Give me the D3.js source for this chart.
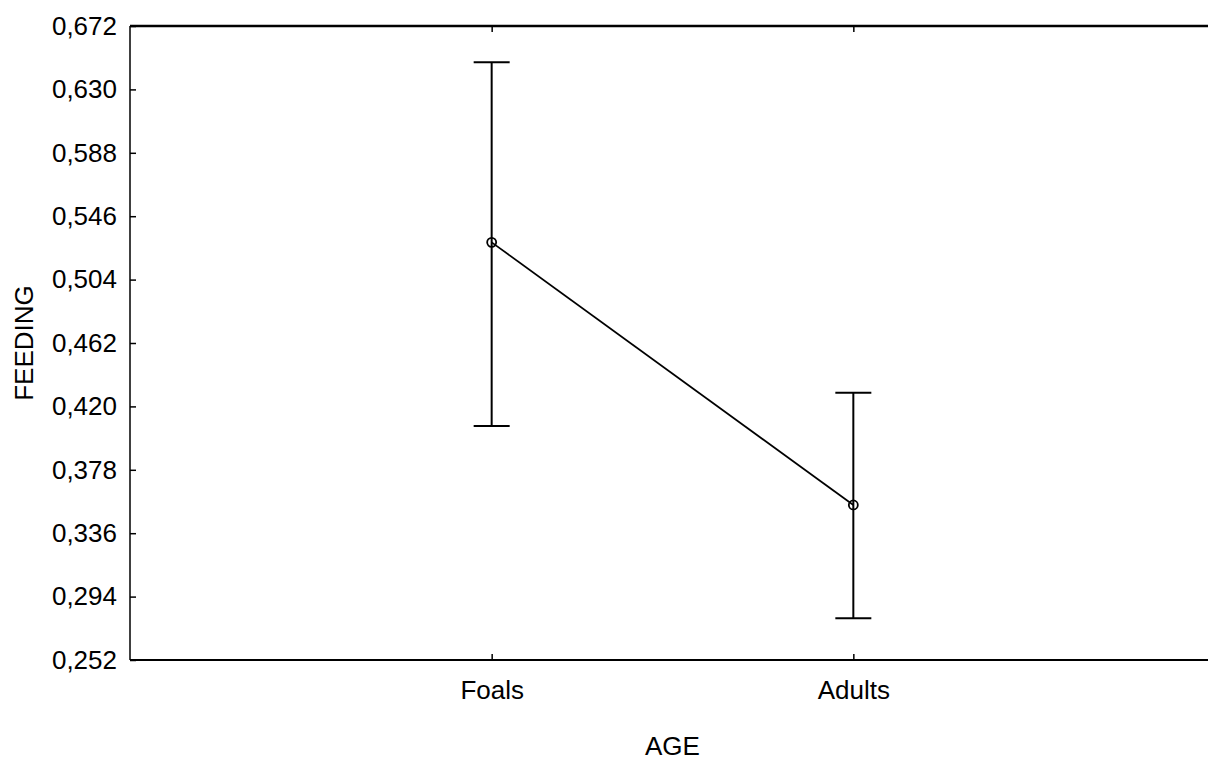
<!DOCTYPE html>
<html>
<head>
<meta charset="utf-8">
<script src="https://d3js.org/d3.v7.min.js"></script>
<style>
  html, body { margin: 0; padding: 0; background: #fff; overflow: hidden; }
  text { font-family: "Liberation Sans", Arial, sans-serif; fill: #000; }
</style>
</head>
<body>
<script>
// chart data
const categories = ["Foals", "Adults"];
const means = [0.5287, 0.3547];
const upper = [0.648, 0.4291];
const lower = [0.407, 0.2796];
const yTicks = [0.252, 0.294, 0.336, 0.378, 0.420, 0.462, 0.504, 0.546, 0.588, 0.630, 0.672];

const width = 1208, height = 760;
const m = { left: 130, top: 26, right: 1215, bottom: 660 };

const svg = d3.select("body").append("svg")
  .attr("width", width)
  .attr("height", height);

const x = d3.scalePoint()
  .domain(categories)
  .range([m.left, m.right])
  .padding(1);

const y = d3.scaleLinear()
  .domain([0.252, 0.672])
  .range([m.bottom, m.top]);

const fmt = d => d3.format(".3f")(d).replace(".", ",");

// frame lines
svg.append("line")
  .attr("x1", m.left).attr("x2", m.right)
  .attr("y1", m.top).attr("y2", m.top)
  .attr("stroke", "#000").attr("stroke-width", 2.5);
svg.append("line")
  .attr("x1", m.left).attr("x2", m.right)
  .attr("y1", m.bottom).attr("y2", m.bottom)
  .attr("stroke", "#000").attr("stroke-width", 2);
svg.append("line")
  .attr("x1", m.left).attr("x2", m.left)
  .attr("y1", m.top).attr("y2", m.bottom)
  .attr("stroke", "#000").attr("stroke-width", 1.5);

// y axis (ticks point inward)
const yAxis = d3.axisLeft(y)
  .tickValues(yTicks)
  .tickSize(-6)
  .tickPadding(13)
  .tickFormat(fmt);
const gy = svg.append("g")
  .attr("transform", `translate(${m.left},0)`)
  .call(yAxis);
gy.select(".domain").remove();
gy.selectAll(".tick line").attr("stroke", "#000").attr("stroke-width", 1.5);
gy.selectAll(".tick text")
  .style("font-size", "26px")
  .attr("font-family", null);

// x axis bottom
const xAxis = d3.axisBottom(x)
  .tickSize(-6)
  .tickPadding(21);
const gx = svg.append("g")
  .attr("transform", `translate(0,${m.bottom})`)
  .call(xAxis);
gx.select(".domain").remove();
gx.selectAll(".tick line").attr("stroke", "#000").attr("stroke-width", 1.5);
gx.selectAll(".tick text")
  .style("font-size", "26px")
  .attr("font-family", null);

// x ticks on top
const gt = svg.append("g")
  .attr("transform", `translate(0,${m.top})`)
  .call(d3.axisTop(x).tickSize(-6).tickFormat(""));
gt.select(".domain").remove();
gt.selectAll(".tick line").attr("stroke", "#000").attr("stroke-width", 1.5);

// axis titles
svg.append("text")
  .attr("x", (m.left + m.right) / 2)
  .attr("y", 755)
  .attr("text-anchor", "middle")
  .style("font-size", "26px")
  .text("AGE");

svg.append("text")
  .attr("transform", `translate(33,${(m.top + m.bottom) / 2}) rotate(-90)`)
  .attr("text-anchor", "middle")
  .style("font-size", "26px")
  .text("FEEDING");

// error bars
const rows = categories.map((c, i) => ({ c, mean: means[i], hi: upper[i], lo: lower[i] }));
const cap = 18;

const eb = svg.append("g").attr("stroke", "#000").attr("stroke-width", 2);
eb.selectAll(".stem").data(rows).join("line")
  .attr("x1", d => x(d.c)).attr("x2", d => x(d.c))
  .attr("y1", d => y(d.hi)).attr("y2", d => y(d.lo));
eb.selectAll(".capH").data(rows).join("line")
  .attr("x1", d => x(d.c) - cap).attr("x2", d => x(d.c) + cap)
  .attr("y1", d => y(d.hi)).attr("y2", d => y(d.hi));
eb.selectAll(".capL").data(rows).join("line")
  .attr("class", "capL")
  .attr("x1", d => x(d.c) - cap).attr("x2", d => x(d.c) + cap)
  .attr("y1", d => y(d.lo)).attr("y2", d => y(d.lo));

// mean line
const line = d3.line().x(d => x(d.c)).y(d => y(d.mean));
svg.append("path")
  .datum(rows)
  .attr("d", line)
  .attr("fill", "none")
  .attr("stroke", "#000")
  .attr("stroke-width", 1.7);

svg.selectAll(".pt").data(rows).join("circle")
  .attr("cx", d => x(d.c))
  .attr("cy", d => y(d.mean))
  .attr("r", 4.5)
  .attr("fill", "none")
  .attr("stroke", "#000")
  .attr("stroke-width", 1.8);
</script>
</body>
</html>
